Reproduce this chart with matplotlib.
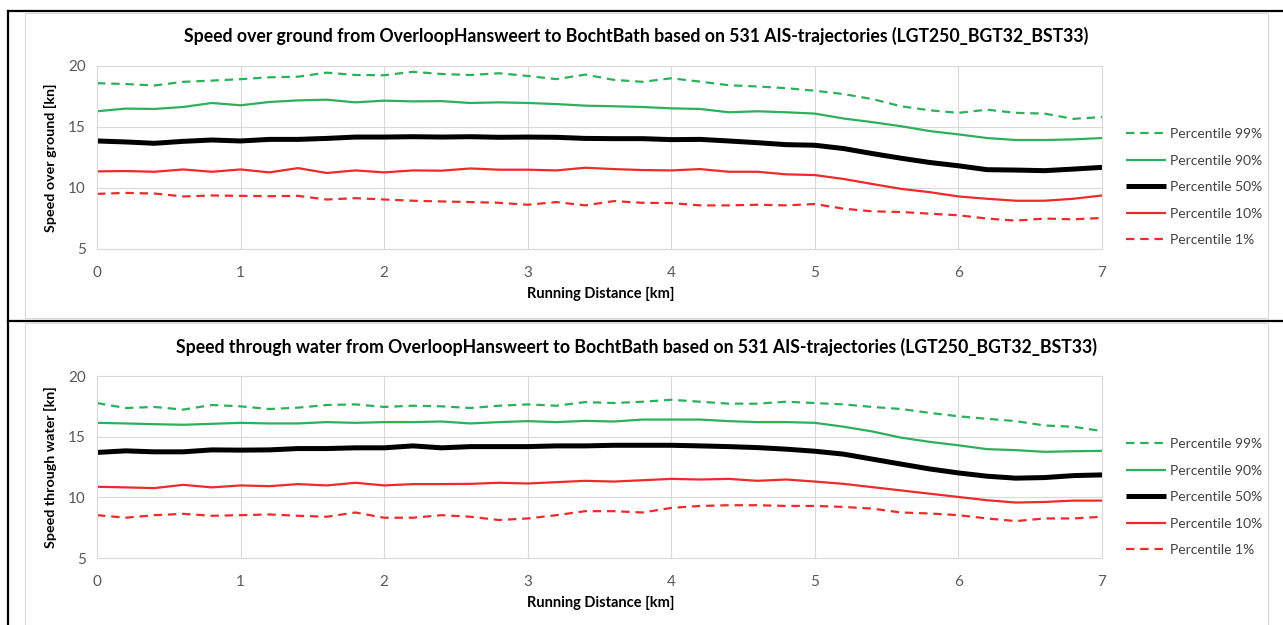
import numpy as np
import matplotlib
matplotlib.use("Agg")
import matplotlib.pyplot as plt
from matplotlib.lines import Line2D
from matplotlib.patches import Rectangle

plt.rcParams['font.family'] = ['Lato', 'DejaVu Sans']

# ---------------- data ----------------
distance_km = [0.0, 0.2, 0.4, 0.6, 0.8, 1.0, 1.2, 1.4, 1.6, 1.8, 2.0, 2.2,
               2.4, 2.6, 2.8, 3.0, 3.2, 3.4, 3.6, 3.8, 4.0, 4.2, 4.4,
               4.6, 4.8, 5.0, 5.2, 5.4, 5.6, 5.8, 6.0, 6.2, 6.4, 6.6, 6.8, 7.0]

# Speed over ground
sog_p99 = [18.57, 18.50, 18.38, 18.68, 18.78, 18.90, 19.05, 19.10, 19.43, 19.24, 19.22, 19.50,
           19.32, 19.24, 19.38, 19.16, 18.90, 19.27, 18.84, 18.68, 18.97, 18.70, 18.40,
           18.30, 18.16, 17.95, 17.68, 17.27, 16.68, 16.35, 16.14, 16.40, 16.14, 16.08, 15.65, 15.80]
sog_p90 = [16.27, 16.49, 16.46, 16.62, 16.95, 16.76, 17.03, 17.16, 17.22, 17.00, 17.14, 17.08,
           17.10, 16.95, 17.00, 16.95, 16.86, 16.73, 16.68, 16.62, 16.51, 16.46, 16.19,
           16.27, 16.19, 16.08, 15.68, 15.38, 15.05, 14.65, 14.38, 14.08, 13.92, 13.92, 13.97, 14.08]
sog_p50 = [13.84, 13.76, 13.65, 13.81, 13.92, 13.84, 13.97, 13.97, 14.05, 14.16, 14.16, 14.19,
           14.16, 14.19, 14.14, 14.16, 14.14, 14.05, 14.03, 14.03, 13.95, 13.97, 13.84,
           13.70, 13.54, 13.49, 13.22, 12.81, 12.43, 12.08, 11.81, 11.49, 11.46, 11.41, 11.54, 11.68]
sog_p10 = [11.35, 11.38, 11.32, 11.51, 11.32, 11.51, 11.27, 11.62, 11.22, 11.43, 11.27, 11.43,
           11.41, 11.59, 11.49, 11.49, 11.43, 11.65, 11.54, 11.46, 11.43, 11.54, 11.32,
           11.32, 11.11, 11.05, 10.73, 10.32, 9.92, 9.65, 9.30, 9.11, 8.95, 8.95, 9.11, 9.38]
sog_p1 = [9.51, 9.59, 9.54, 9.30, 9.38, 9.35, 9.32, 9.35, 9.05, 9.16, 9.05, 8.95,
          8.89, 8.84, 8.78, 8.62, 8.84, 8.57, 8.92, 8.78, 8.76, 8.57, 8.57,
          8.62, 8.57, 8.68, 8.30, 8.08, 8.03, 7.89, 7.76, 7.49, 7.32, 7.49, 7.43, 7.54]

# Speed through water
stw_p99 = [17.77, 17.36, 17.45, 17.23, 17.61, 17.50, 17.28, 17.39, 17.61, 17.66, 17.45, 17.55,
           17.50, 17.36, 17.55, 17.66, 17.55, 17.85, 17.77, 17.88, 18.04, 17.88, 17.72,
           17.72, 17.88, 17.77, 17.66, 17.45, 17.28, 16.96, 16.68, 16.47, 16.28, 15.92, 15.82, 15.46]
stw_p90 = [16.14, 16.09, 16.03, 15.98, 16.06, 16.14, 16.09, 16.09, 16.20, 16.14, 16.20, 16.20,
           16.25, 16.09, 16.20, 16.28, 16.20, 16.30, 16.25, 16.41, 16.41, 16.41, 16.28,
           16.20, 16.20, 16.14, 15.82, 15.43, 14.92, 14.57, 14.29, 13.97, 13.89, 13.75, 13.80, 13.83]
stw_p50 = [13.70, 13.83, 13.75, 13.75, 13.91, 13.89, 13.91, 14.02, 14.02, 14.08, 14.08, 14.24,
           14.08, 14.18, 14.18, 14.18, 14.24, 14.24, 14.29, 14.29, 14.29, 14.24, 14.18,
           14.10, 13.97, 13.80, 13.56, 13.15, 12.74, 12.34, 12.01, 11.74, 11.58, 11.63, 11.79, 11.85]
stw_p10 = [10.87, 10.82, 10.76, 11.03, 10.82, 10.98, 10.92, 11.09, 10.98, 11.20, 10.98, 11.09,
           11.09, 11.11, 11.20, 11.14, 11.25, 11.36, 11.30, 11.41, 11.52, 11.47, 11.52,
           11.36, 11.47, 11.30, 11.11, 10.84, 10.57, 10.30, 10.03, 9.76, 9.57, 9.62, 9.73, 9.73]
stw_p1 = [8.53, 8.32, 8.53, 8.64, 8.48, 8.53, 8.59, 8.48, 8.40, 8.75, 8.32, 8.32,
          8.53, 8.40, 8.13, 8.26, 8.53, 8.86, 8.86, 8.75, 9.13, 9.29, 9.35,
          9.35, 9.29, 9.29, 9.21, 9.07, 8.75, 8.67, 8.53, 8.26, 8.04, 8.26, 8.26, 8.40]

series_labels = ['Percentile 99%', 'Percentile 90%', 'Percentile 50%',
                 'Percentile 10%', 'Percentile 1%']
titles = ['Speed over ground from OverloopHansweert to BochtBath based on 531 AIS-trajectories (LGT250_BGT32_BST33)',
          'Speed through water from OverloopHansweert to BochtBath based on 531 AIS-trajectories (LGT250_BGT32_BST33)']
ylabels = ['Speed over ground [kn]', 'Speed through water [kn]']
xlabel = 'Running Distance [km]'
x_ticks = [0, 1, 2, 3, 4, 5, 6, 7]
y_ticks = [5, 10, 15, 20]

# ---------------- style ----------------
GREEN = '#2EAF5C'
RED = '#EE2A2A'
BLACK = '#000000'
styles = [dict(color=GREEN, lw=1.6, dashes=(3.8, 2.6)),
          dict(color=GREEN, lw=1.6),
          dict(color=BLACK, lw=3.6),
          dict(color=RED, lw=1.6),
          dict(color=RED, lw=1.6, dashes=(3.8, 2.6))]

W, H = 1283, 625
fig = plt.figure(figsize=(W / 100, H / 100), dpi=100)
fig.patch.set_facecolor('white')

def fx(px):
    return px / W

def fy(py):
    return 1 - py / H

# chart area boxes (light gray)
for top, bot in [(13, 318), (323, 640)]:
    fig.add_artist(Rectangle((fx(25), fy(bot)), fx(1268) - fx(25), fy(top) - fy(bot),
                             transform=fig.transFigure, fill=False,
                             edgecolor='#D9D9D9', lw=0.8))

# table borders (black)
fig.add_artist(Line2D([fx(8), fx(8)], [fy(11), fy(625)], transform=fig.transFigure, color='black', lw=1.6))
fig.add_artist(Line2D([fx(8), fx(1283)], [fy(11), fy(11)], transform=fig.transFigure, color='black', lw=1.6))
fig.add_artist(Line2D([fx(8), fx(1283)], [fy(320.5), fy(320.5)], transform=fig.transFigure, color='black', lw=1.6))

panels = [
    dict(data=[sog_p99, sog_p90, sog_p50, sog_p10, sog_p1], top=65.7, bot=249, title_y=36, xl_y=294,
         leg_y=133),
    dict(data=[stw_p99, stw_p90, stw_p50, stw_p10, stw_p1], top=376, bot=558, title_y=347, xl_y=603,
         leg_y=443),
]

for i, p in enumerate(panels):
    left, right = 97, 1102
    ax = fig.add_axes([fx(left), fy(p['bot']), fx(right) - fx(left), fy(p['top']) - fy(p['bot'])])
    handles = []
    for vals, st, lab in zip(p['data'], styles, series_labels):
        kw = dict(st)
        dashes = kw.pop('dashes', None)
        line, = ax.plot(distance_km, vals, label=lab, solid_joinstyle='round',
                        solid_capstyle='butt', **kw)
        if dashes is not None:
            line.set_dashes(dashes)
            line.set_dash_capstyle('butt')
        handles.append(line)
    ax.set_xlim(0, 7)
    ax.set_ylim(5, 20)
    ax.set_xticks(x_ticks)
    ax.set_yticks(y_ticks)
    ax.grid(True, color='#D9D9D9', lw=0.8)
    ax.set_axisbelow(True)
    for s in ax.spines.values():
        s.set_color('#D9D9D9')
        s.set_linewidth(0.8)
    ax.tick_params(length=0, colors='#595959', labelsize=11)
    ax.tick_params(axis='x', pad=12)
    ax.tick_params(axis='y', pad=8)
    for lbl in ax.get_xticklabels() + ax.get_yticklabels():
        lbl.set_color('#595959')
    ax.set_ylabel(ylabels[i], fontsize=10.3, fontweight='bold', color='black', labelpad=8)
    fig.text(fx(601), fy(p['xl_y']), xlabel, ha='center', va='center',
             fontsize=10.5, fontweight='bold', color='black')
    fig.text(fx(636), fy(p['title_y']), titles[i], ha='center', va='center',
             fontsize=12.7, fontweight='bold', color='black')
    leg = fig.legend(handles=handles, loc='upper left',
                     bbox_to_anchor=(fx(1126), fy(p['leg_y'] - 5)),
                     frameon=False, fontsize=10, handlelength=2.9, handletextpad=0.3,
                     labelspacing=1.05, borderpad=0, borderaxespad=0)
    for t in leg.get_texts():
        t.set_color('#404040')

fig.savefig('out.png', dpi=100, facecolor='white')
